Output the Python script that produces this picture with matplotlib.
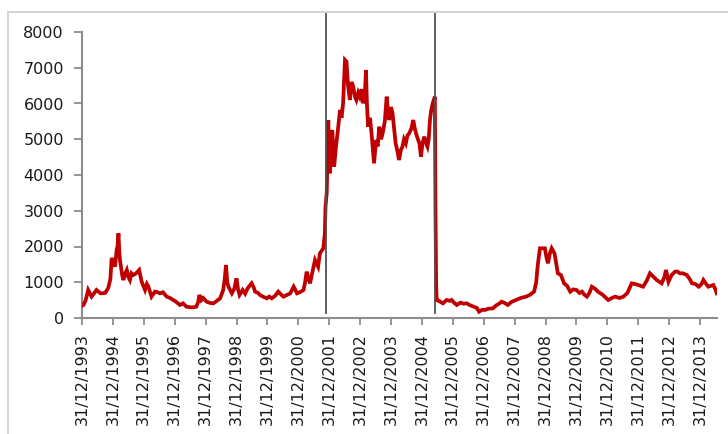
import matplotlib
matplotlib.use('Agg')
import matplotlib.pyplot as plt
import matplotlib.patches as patches

# ── Colors ──────────────────────────────────────────────
COLOR_LINE   = '#c00000'   # dark red
COLOR_MARKER = '#505050'   # vertical break lines
COLOR_SPINE  = '#8c8c8c'
COLOR_FRAME  = '#d4d4d4'

# ── Data (decimal year, 31/12/1993 = 1994.0) ────────────
years = [
    1994.00, 1994.05, 1994.12, 1994.20, 1994.31, 1994.40, 1994.47, 1994.60, 1994.75, 1994.85,
    1994.92, 1994.96, 1995.02, 1995.07, 1995.12, 1995.15, 1995.18, 1995.21, 1995.23, 1995.30,
    1995.34, 1995.40, 1995.45, 1995.50, 1995.55, 1995.60, 1995.66, 1995.75, 1995.85, 1995.93,
    1996.04, 1996.10, 1996.15, 1996.25, 1996.36, 1996.45, 1996.52, 1996.62, 1996.74, 1996.85,
    1996.95, 1997.05, 1997.17, 1997.27, 1997.38, 1997.50, 1997.60, 1997.70, 1997.76, 1997.80,
    1997.86, 1997.92, 1997.98, 1998.03, 1998.15, 1998.25, 1998.35, 1998.47, 1998.57, 1998.62,
    1998.66, 1998.70, 1998.74, 1998.85, 1998.93, 1999.00, 1999.05, 1999.10, 1999.20, 1999.28,
    1999.36, 1999.49, 1999.56, 1999.60, 1999.70, 1999.76, 1999.85, 1999.98, 2000.06, 2000.14,
    2000.25, 2000.35, 2000.45, 2000.52, 2000.62, 2000.74, 2000.85, 2000.96, 2001.05, 2001.17,
    2001.22, 2001.27, 2001.33, 2001.38, 2001.46, 2001.54, 2001.64, 2001.70, 2001.81, 2001.86,
    2001.88, 2001.92, 2001.95, 2001.97, 2002.00, 2002.02, 2002.06, 2002.10, 2002.16, 2002.22,
    2002.27, 2002.31, 2002.35, 2002.40, 2002.45, 2002.51, 2002.56, 2002.61, 2002.67, 2002.72,
    2002.78, 2002.83, 2002.88, 2002.94, 2002.99, 2003.05, 2003.10, 2003.15, 2003.19, 2003.22,
    2003.26, 2003.32, 2003.37, 2003.45, 2003.52, 2003.57, 2003.62, 2003.68, 2003.73, 2003.80,
    2003.86, 2003.90, 2003.94, 2004.00, 2004.05, 2004.10, 2004.15, 2004.20, 2004.26, 2004.32,
    2004.37, 2004.42, 2004.48, 2004.53, 2004.59, 2004.66, 2004.72, 2004.77, 2004.81, 2004.87,
    2004.92, 2004.97, 2005.02, 2005.08, 2005.13, 2005.18, 2005.22, 2005.26, 2005.30, 2005.35,
    2005.42, 2005.44, 2005.46, 2005.48, 2005.50, 2005.60, 2005.68, 2005.80, 2005.90, 2005.96,
    2006.05, 2006.13, 2006.25, 2006.35, 2006.45, 2006.55, 2006.67, 2006.78, 2006.85, 2006.95,
    2007.04, 2007.15, 2007.30, 2007.40, 2007.50, 2007.58, 2007.68, 2007.78, 2007.90, 2008.05,
    2008.20, 2008.37, 2008.50, 2008.63, 2008.70, 2008.74, 2008.77, 2008.82, 2008.90, 2008.98,
    2009.03, 2009.08, 2009.14, 2009.20, 2009.29, 2009.35, 2009.40, 2009.50, 2009.60, 2009.70,
    2009.80, 2009.90, 2010.00, 2010.10, 2010.18, 2010.26, 2010.34, 2010.42, 2010.50, 2010.60,
    2010.70, 2010.85, 2011.03, 2011.15, 2011.25, 2011.40, 2011.52, 2011.65, 2011.79, 2011.90,
    2012.00, 2012.16, 2012.28, 2012.38, 2012.50, 2012.60, 2012.76, 2012.85, 2012.90, 2012.98,
    2013.08, 2013.19, 2013.27, 2013.35, 2013.45, 2013.57, 2013.66, 2013.74, 2013.85, 2013.96,
    2014.05, 2014.11, 2014.20, 2014.27, 2014.35, 2014.43, 2014.50, 2014.54,
]
values = [
    350, 364, 500, 784, 600, 700, 784, 690, 700, 840,
    1100, 1680, 1550, 1435, 1900, 2000, 2370, 1800, 1620, 1200,
    1063, 1250, 1343, 1150, 1063, 1250, 1203, 1250, 1343, 1016,
    784, 950, 876, 597, 737, 720, 690, 720, 597, 560,
    504, 450, 364, 410, 317, 300, 300, 317, 450, 644,
    500, 560, 504, 457, 420, 410, 470, 550, 784, 1100,
    1483, 1000, 876, 690, 820, 1110, 800, 644, 784, 680,
    830, 970, 850, 737, 700, 644, 600, 550, 600, 550,
    620, 737, 650, 597, 640, 690, 876, 690, 720, 784,
    1000, 1296, 1100, 970, 1300, 1622, 1435, 1810, 1950, 2370,
    3100, 3500, 4800, 5538, 4500, 4047, 5000, 5258, 4232, 4800,
    5166, 5500, 5818, 5600, 6005, 7217, 7170, 6500, 6098, 6600,
    6471, 6200, 6098, 6300, 6191, 6400, 6005, 6200, 6937, 6000,
    5351, 5600, 5166, 4327, 4980, 4800, 5351, 5000, 5166, 5500,
    6191, 5800, 5538, 5900, 5725, 5300, 4886, 4700, 4419, 4700,
    4793, 5000, 4886, 5100, 5166, 5300, 5538, 5300, 5166, 5000,
    4886, 4513, 4900, 5073, 4900, 4793, 5000, 5538, 5800, 6005,
    6191, 3000, 970, 457, 504, 450, 410, 504, 480, 504,
    420, 364, 430, 400, 410, 360, 317, 280, 176, 230,
    224, 260, 270, 350, 400, 457, 420, 364, 450, 504,
    560, 597, 650, 737, 1000, 1400, 1622, 1950, 1950, 1950,
    1700, 1530, 1800, 1950, 1810, 1500, 1250, 1200, 970, 900,
    737, 800, 784, 700, 737, 650, 597, 700, 876, 820,
    737, 650, 504, 560, 597, 560, 597, 700, 970, 950,
    923, 876, 1050, 1250, 1150, 1063, 970, 1150, 1343, 1016,
    1200, 1296, 1300, 1250, 1250, 1203, 1100, 970, 950, 876,
    950, 1063, 950, 876, 900, 923, 800, 690,
]

# dates of the two regime breaks
breaks = [2001.90, 2005.42]

tick_years  = list(range(1994, 2015))
tick_labels = [f"31/12/{y - 1}" for y in tick_years]
y_ticks     = list(range(0, 8001, 1000))

# ── Figure ──────────────────────────────────────────────
fig = plt.figure(figsize=(7.28, 4.34), dpi=100)
plt.rcParams['font.family'] = ['DejaVu Sans']

# light outer frame (partly outside the picture)
frame = patches.Rectangle(
    (8 / 728, -0.1), 1.2, 1 - 12 / 434 + 0.1,
    transform=fig.transFigure, fill=False,
    edgecolor=COLOR_FRAME, linewidth=1.5
)
fig.patches.append(frame)

ax = fig.add_axes([82 / 728, 1 - 318 / 434, 635 / 728, 286 / 434])

ax.plot(years, values, color=COLOR_LINE, linewidth=2.7, solid_joinstyle='miter', zorder=3)

for b in breaks:
    ax.axvline(b, ymin=0.017, ymax=1.07, color=COLOR_MARKER, linewidth=1.3,
               clip_on=False, zorder=4)

ax.set_xlim(1994.0, 2014.55)
ax.set_ylim(0, 8000)

ax.set_yticks(y_ticks)
ax.set_yticklabels([str(v) for v in y_ticks], fontsize=11.5, color='#1a1a1a')
ax.set_xticks(tick_years)
ax.set_xticklabels(tick_labels, rotation=90, fontsize=11.5, color='#1a1a1a')

ax.tick_params(axis='y', direction='out', length=6, width=1.3,
               color=COLOR_SPINE, pad=7)
ax.tick_params(axis='x', direction='out', length=5, width=1.3,
               color=COLOR_SPINE, pad=6)

for side in ['top', 'right']:
    ax.spines[side].set_visible(False)
for side in ['left', 'bottom']:
    ax.spines[side].set_color(COLOR_SPINE)
    ax.spines[side].set_linewidth(1.5)

fig.savefig('out.png', dpi=100)
